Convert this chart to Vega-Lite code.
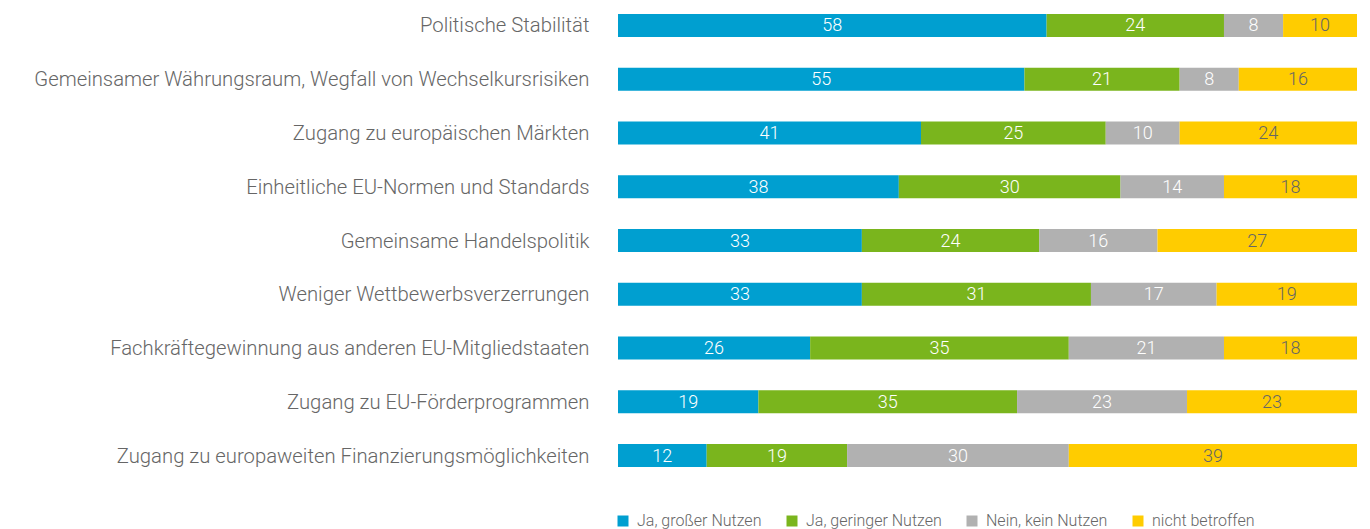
{
  "$schema": "https://vega.github.io/schema/vega-lite/v6.json",
  "width": 739,
  "height": 481,
  "autosize": {"type": "none"},
  "padding": {"left": 618, "top": 0, "right": 13, "bottom": 48},
  "data": {"values": [
    {"k": "Politische Stabilität", "s": "Ja, großer Nutzen", "v": 58},
    {"k": "Politische Stabilität", "s": "Ja, geringer Nutzen", "v": 24},
    {"k": "Politische Stabilität", "s": "Nein, kein Nutzen", "v": 8},
    {"k": "Politische Stabilität", "s": "nicht betroffen", "v": 10},
    {"k": "Gemeinsamer Währungsraum, Wegfall von Wechselkursrisiken", "s": "Ja, großer Nutzen", "v": 55},
    {"k": "Gemeinsamer Währungsraum, Wegfall von Wechselkursrisiken", "s": "Ja, geringer Nutzen", "v": 21},
    {"k": "Gemeinsamer Währungsraum, Wegfall von Wechselkursrisiken", "s": "Nein, kein Nutzen", "v": 8},
    {"k": "Gemeinsamer Währungsraum, Wegfall von Wechselkursrisiken", "s": "nicht betroffen", "v": 16},
    {"k": "Zugang zu europäischen Märkten", "s": "Ja, großer Nutzen", "v": 41},
    {"k": "Zugang zu europäischen Märkten", "s": "Ja, geringer Nutzen", "v": 25},
    {"k": "Zugang zu europäischen Märkten", "s": "Nein, kein Nutzen", "v": 10},
    {"k": "Zugang zu europäischen Märkten", "s": "nicht betroffen", "v": 24},
    {"k": "Einheitliche EU-Normen und Standards", "s": "Ja, großer Nutzen", "v": 38},
    {"k": "Einheitliche EU-Normen und Standards", "s": "Ja, geringer Nutzen", "v": 30},
    {"k": "Einheitliche EU-Normen und Standards", "s": "Nein, kein Nutzen", "v": 14},
    {"k": "Einheitliche EU-Normen und Standards", "s": "nicht betroffen", "v": 18},
    {"k": "Gemeinsame Handelspolitik", "s": "Ja, großer Nutzen", "v": 33},
    {"k": "Gemeinsame Handelspolitik", "s": "Ja, geringer Nutzen", "v": 24},
    {"k": "Gemeinsame Handelspolitik", "s": "Nein, kein Nutzen", "v": 16},
    {"k": "Gemeinsame Handelspolitik", "s": "nicht betroffen", "v": 27},
    {"k": "Weniger Wettbewerbsverzerrungen", "s": "Ja, großer Nutzen", "v": 33},
    {"k": "Weniger Wettbewerbsverzerrungen", "s": "Ja, geringer Nutzen", "v": 31},
    {"k": "Weniger Wettbewerbsverzerrungen", "s": "Nein, kein Nutzen", "v": 17},
    {"k": "Weniger Wettbewerbsverzerrungen", "s": "nicht betroffen", "v": 19},
    {"k": "Fachkräftegewinnung aus anderen EU-Mitgliedstaaten", "s": "Ja, großer Nutzen", "v": 26},
    {"k": "Fachkräftegewinnung aus anderen EU-Mitgliedstaaten", "s": "Ja, geringer Nutzen", "v": 35},
    {"k": "Fachkräftegewinnung aus anderen EU-Mitgliedstaaten", "s": "Nein, kein Nutzen", "v": 21},
    {"k": "Fachkräftegewinnung aus anderen EU-Mitgliedstaaten", "s": "nicht betroffen", "v": 18},
    {"k": "Zugang zu EU-Förderprogrammen", "s": "Ja, großer Nutzen", "v": 19},
    {"k": "Zugang zu EU-Förderprogrammen", "s": "Ja, geringer Nutzen", "v": 35},
    {"k": "Zugang zu EU-Förderprogrammen", "s": "Nein, kein Nutzen", "v": 23},
    {"k": "Zugang zu EU-Förderprogrammen", "s": "nicht betroffen", "v": 23},
    {"k": "Zugang zu europaweiten Finanzierungsmöglichkeiten", "s": "Ja, großer Nutzen", "v": 12},
    {"k": "Zugang zu europaweiten Finanzierungsmöglichkeiten", "s": "Ja, geringer Nutzen", "v": 19},
    {"k": "Zugang zu europaweiten Finanzierungsmöglichkeiten", "s": "Nein, kein Nutzen", "v": 30},
    {"k": "Zugang zu europaweiten Finanzierungsmöglichkeiten", "s": "nicht betroffen", "v": 39}
  ]},
  "transform": [
    {"stack": "v", "groupby": ["k"], "as": ["v0", "v1"]},
    {"calculate": "(datum.v0 + datum.v1) / 2", "as": "mid"}
  ],
  "encoding": {
    "y": {
      "field": "k", "type": "nominal", "sort": null, "title": null,
      "scale": {"paddingInner": 0.572, "paddingOuter": 0.26},
      "axis": {"domain": false, "ticks": false, "labelPadding": 29, "labelFontSize": 20.3, "labelFont": "Roboto", "labelFontWeight": 300, "labelColor": "#666666", "labelLimit": 700, "labelOffset": 1}
    }
  },
  "layer": [
    {
      "mark": {"type": "bar"},
      "encoding": {
        "x": {"field": "v0", "type": "quantitative", "scale": {"domain": [0, 100], "nice": false}, "axis": null},
        "x2": {"field": "v1"},
        "color": {
          "field": "s", "type": "nominal", "title": null,
          "scale": {"domain": ["Ja, großer Nutzen", "Ja, geringer Nutzen", "Nein, kein Nutzen", "nicht betroffen"], "range": ["#009FD0", "#7AB51D", "#B1B1B1", "#FFCC00"]},
          "legend": {"orient": "none", "legendX": -3, "legendY": 513, "direction": "horizontal", "columns": 4, "symbolType": "square", "symbolSize": 121, "symbolStrokeWidth": 0, "labelFont": "Roboto", "labelFontWeight": 300, "labelFontSize": 16, "labelColor": "#666666", "columnPadding": 22, "labelOffset": 6}
        }
      }
    },
    {
      "mark": {"type": "text", "font": "Roboto", "fontWeight": 300, "fontSize": 18, "baseline": "middle", "align": "center", "dy": 1},
      "encoding": {
        "x": {"field": "mid", "type": "quantitative"},
        "text": {"field": "v", "type": "quantitative"},
        "color": {"condition": {"test": "datum.s === 'nicht betroffen'", "value": "#666666"}, "value": "#ffffff"}
      }
    }
  ],
  "config": {"view": {"stroke": null}}
}
